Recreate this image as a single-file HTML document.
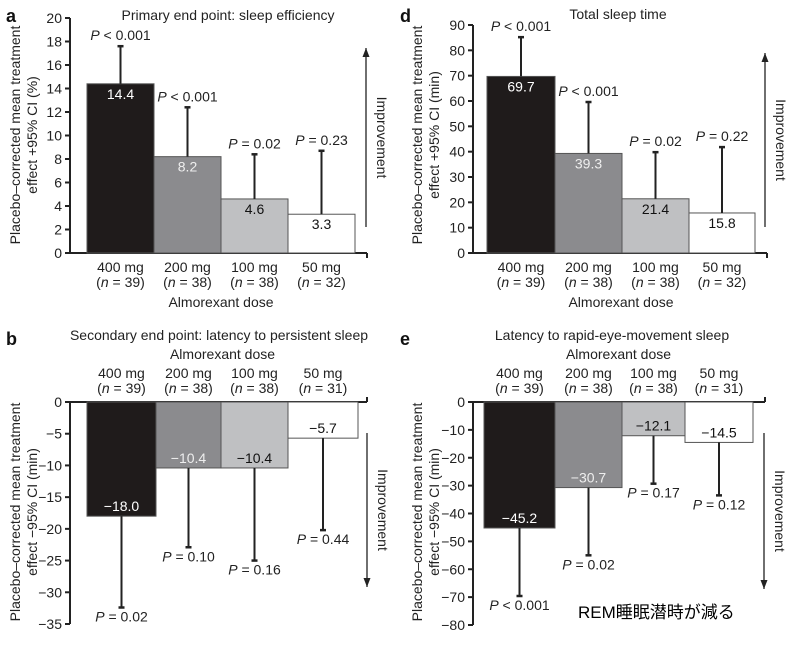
<!DOCTYPE html>
<html><head><meta charset="utf-8"><style>
body{margin:0;background:#fff;}
svg{display:block;font-family:"Liberation Sans",sans-serif;}
</style></head><body>
<svg id="c" width="796" height="648" xmlns="http://www.w3.org/2000/svg"></svg>
<script>
const doses = ["400 mg","200 mg","100 mg","50 mg"];
const nA = ["39","38","38","32"];
const nB = ["39","38","38","31"];
const valA = [14.4, 8.2, 4.6, 3.3];
const ciA = [17.6, 12.4, 8.4, 8.7];
const pA = ["< 0.001","< 0.001","= 0.02","= 0.23"];
const ticksA = [0,2,4,6,8,10,12,14,16,18,20];
const valD = [69.7, 39.3, 21.4, 15.8];
const ciD = [85.2, 59.6, 39.8, 41.8];
const pD = ["< 0.001","< 0.001","= 0.02","= 0.22"];
const ticksD = [0,10,20,30,40,50,60,70,80,90];
const valB = [-18.0, -10.4, -10.4, -5.7];
const ciB = [-32.4, -22.9, -25.0, -20.2];
const pB = ["= 0.02","= 0.10","= 0.16","= 0.44"];
const ticksB = [0,-5,-10,-15,-20,-25,-30,-35];
const valE = [-45.2, -30.7, -12.1, -14.5];
const ciE = [-69.6, -55.0, -29.3, -33.5];
const pE = ["< 0.001","= 0.02","= 0.17","= 0.12"];
const ticksE = [0,-10,-20,-30,-40,-50,-60,-70,-80];

const fills = ["#1f1b1b","#8b8b8e","#bfc0c2","#ffffff"];
const txtFill = ["#fff","#eee","#111","#111"];
const FS = 14;
const NS = "http://www.w3.org/2000/svg";
const svg = document.getElementById('c');
function el(tag, attrs, parent, text){
  const e = document.createElementNS(NS, tag);
  for (const k in attrs) e.setAttribute(k, attrs[k]);
  if (text !== undefined) e.textContent = text;
  (parent||svg).appendChild(e);
  return e;
}
function ptext(parent, x, y, p, name){
  const t = el('text',{x:x,y:y,'font-size':FS,'text-anchor':'middle',fill:'#222'},parent);
  
  
  el('tspan',{'font-style':'italic'},t,'P');
  el('tspan',{},t,' '+p);
}
function panel(cfg){
  const g = el('g',{});
  
  
  const y = v => cfg.y0 + (v - cfg.vmin)*(cfg.y1-cfg.y0)/(cfg.vmax-cfg.vmin);
  const ax = cfg.ax;
  const L = el('text',{x:cfg.lx,y:cfg.ly,'font-size':18,'font-weight':'bold',fill:'#111'},g,cfg.letter);
   
  const T = el('text',{x:cfg.tx,y:cfg.ty,'font-size':FS,'text-anchor':'middle',fill:'#222'},g,cfg.title);
   
  const ya = el('line',{x1:ax,x2:ax,y1:y(cfg.vmin),y2:y(cfg.vmax),stroke:'#222','stroke-width':2},g);
   
  cfg.ticks.forEach(t=>{
    const tk = el('line',{x1:ax-5,x2:ax,y1:y(t),y2:y(t),stroke:'#222','stroke-width':2},g);
     
    const tl = el('text',{x:ax-8,y:y(t)+5,'font-size':FS,'text-anchor':'end',fill:'#222'},g,t<0?('\u2212'+(-t)):String(t));
     
  });
  const zy = y(0);
  const xa = el('line',{x1:ax,x2:cfg.xend,y1:zy,y2:zy,stroke:'#222','stroke-width':2},g);
   
  const xe = el('line',{x1:cfg.xend,x2:cfg.xend,y1:zy,y2:zy+(cfg.neg?-5:5),stroke:'#222','stroke-width':2},g);
   
  const yt = el('text',{transform:`translate(${cfg.ytx},${cfg.yty}) rotate(-90)`,'font-size':FS,'text-anchor':'middle',fill:'#222'},g);
   
  el('tspan',{x:0,dy:0},yt,'Placebo\u2013corrected mean treatment');
  el('tspan',{x:0,dy:17},yt,cfg.ytitle2);
  cfg.vals.forEach((v,i)=>{
    const x0 = cfg.bx[i], x1 = cfg.bx[i+1];
    const cx = (x0+x1)/2;
    const top = Math.min(y(v),zy), h = Math.abs(y(v)-zy);
    const r = el('rect',{x:x0,y:top,width:x1-x0,height:h,fill:fills[i],stroke:'#555','stroke-width':1},g);
     
    const e = el('line',{x1:cx,x2:cx,y1:y(v),y2:y(cfg.ci[i]),stroke:'#222','stroke-width':2},g);
     
    const c = el('line',{x1:cx-3,x2:cx+3,y1:y(cfg.ci[i]),y2:y(cfg.ci[i]),stroke:'#222','stroke-width':2.5},g);
     
    const lbl = (v<0?'\u2212':'')+Math.abs(v).toFixed(1);
    const vy = cfg.neg ? y(v)-5 : y(v)+15;
    const vt = el('text',{x:cx,y:vy,'font-size':FS,'text-anchor':'middle',fill:txtFill[i]},g,lbl);
     
    ptext(g, cx, cfg.neg ? y(cfg.ci[i])+14 : y(cfg.ci[i])-6, cfg.p[i], 'p-value-label');
    const d1 = el('text',{x:cx,y:cfg.dy1,'font-size':FS,'text-anchor':'middle',fill:'#222'},g,doses[i]);
     
    const d2 = el('text',{x:cx,y:cfg.dy1+15,'font-size':FS,'text-anchor':'middle',fill:'#222'},g);
     
    el('tspan',{},d2,'(');
    el('tspan',{'font-style':'italic'},d2,'n');
    el('tspan',{},d2,' = '+cfg.n[i]+')');
  });
  const dt = el('text',{x:(cfg.bx[0]+cfg.bx[4])/2,y:cfg.dty,'font-size':FS,'text-anchor':'middle',fill:'#222'},g,'Almorexant dose');
   
  const a = el('line',{x1:cfg.arx,x2:cfg.arx,y1:cfg.ar0,y2:cfg.ar1,stroke:'#222','stroke-width':1.3},g);
   
  const d = cfg.ar1<cfg.ar0 ? 1 : -1;
  const ah = el('polygon',{points:`${cfg.arx},${cfg.ar1} ${cfg.arx-3.5},${cfg.ar1+9*d} ${cfg.arx+3.5},${cfg.ar1+9*d}`,fill:'#222'},g);
   
  const im = el('text',{transform:`translate(${cfg.arx+11},${(cfg.ar0+cfg.ar1)/2}) rotate(90)`,'font-size':FS,'text-anchor':'middle',fill:'#222'},g,'Improvement');
   
}
panel({name:'panel-a',letter:'a',lx:6,ly:22,title:'Primary end point: sleep efficiency',tx:228,ty:20,
  ax:70,y0:253,y1:18,vmin:0,vmax:20,ticks:ticksA,xend:367,vals:valA,ci:ciA,p:pA,n:nA,
  bx:[87,154,221,288,355],dy1:272,dty:307,ytx:20,yty:135,ytitle2:'effect +95% CI (%)',arx:366,ar0:227,ar1:48,neg:false});
panel({name:'panel-d',letter:'d',lx:400,ly:22,title:'Total sleep time',tx:618,ty:19,
  ax:473,y0:253,y1:25,vmin:0,vmax:90,ticks:ticksD,xend:767,vals:valD,ci:ciD,p:pD,n:nA,
  bx:[487,555,622,689,755],dy1:272,dty:307,ytx:422,yty:135,ytitle2:'effect +95% CI (min)',arx:765,ar0:227,ar1:53,neg:false});
panel({name:'panel-b',letter:'b',lx:6,ly:345,title:'Secondary end point: latency to persistent sleep',tx:219,ty:340,
  ax:70,y0:624,y1:402,vmin:-35,vmax:0,ticks:ticksB,xend:367,vals:valB,ci:ciB,p:pB,n:nB,
  bx:[87,156,221,288,358],dy1:378,dty:359,ytx:20,yty:512,ytitle2:'effect \u221295% CI (min)',arx:367,ar0:433,ar1:587,neg:true});
panel({name:'panel-e',letter:'e',lx:400,ly:345,title:'Latency to rapid-eye-movement sleep',tx:612,ty:340,
  ax:473,y0:625,y1:402,vmin:-80,vmax:0,ticks:ticksE,xend:765,vals:valE,ci:ciE,p:pE,n:nB,
  bx:[484,555,622,685,753],dy1:378,dty:359,ytx:422,yty:512,ytitle2:'effect \u221295% CI (min)',arx:764,ar0:433,ar1:589,neg:true});
const jp = el('text',{x:578,y:618,'font-size':17,fill:'#000','font-family':'"Liberation Sans","Noto Sans CJK JP",sans-serif'},svg,'REM睡眠潜時が減る');


</script>
</body></html>
